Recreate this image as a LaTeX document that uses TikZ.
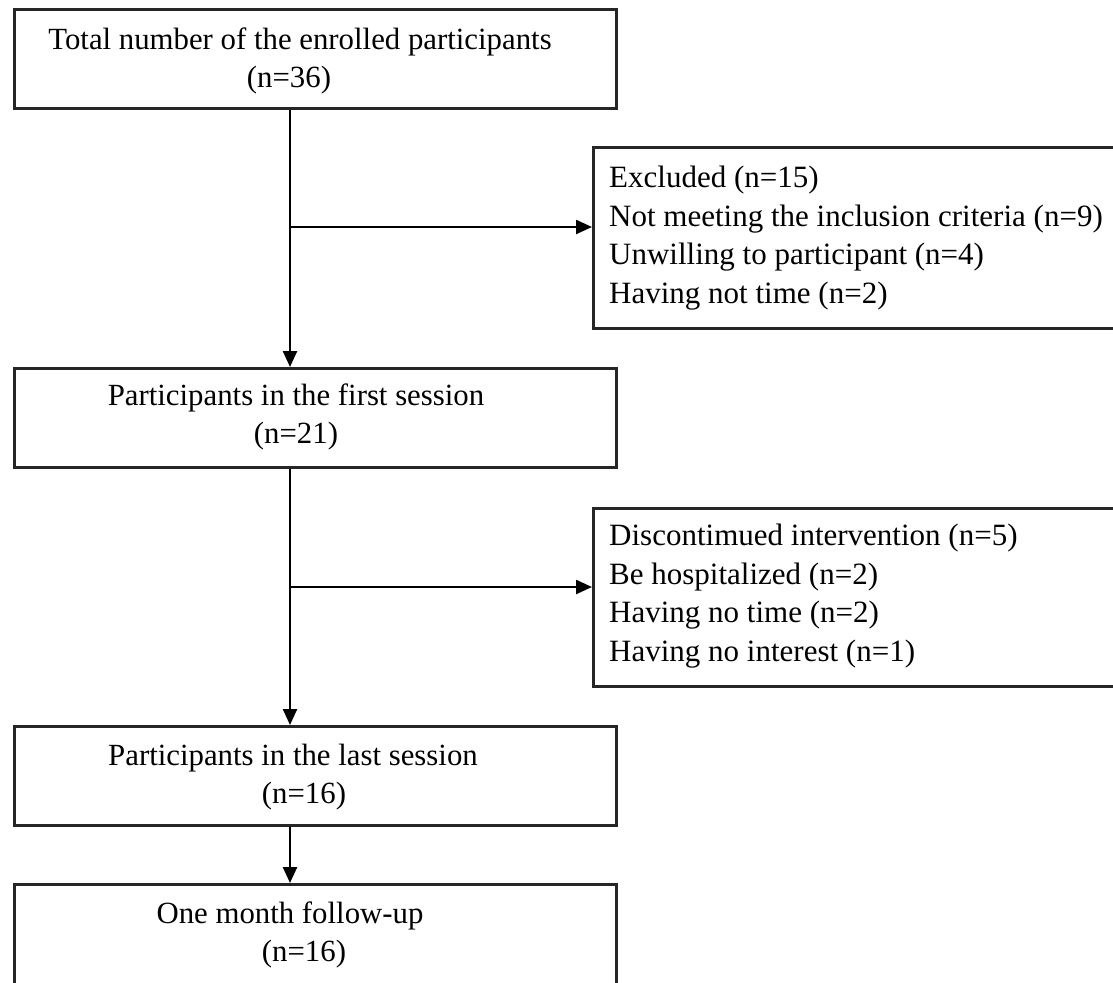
\documentclass[tikz,border=0pt]{standalone}
\usepackage{fontspec}
\setmainfont{Liberation Serif}
\usetikzlibrary{arrows.meta}
\begin{document}
\begin{tikzpicture}[x=1pt,y=-1pt,
  mainbox/.style={draw=black!85,line width=2.6pt,minimum width=602pt,minimum height=99pt,inner sep=0pt,anchor=north west},
  sidebox/.style={draw=black!85,line width=2.6pt,minimum width=560pt,minimum height=180pt,inner sep=0pt,anchor=north west},
  lbl/.style={align=center,inner sep=0pt,font=\fontsize{30.8}{38}\selectfont},
  sidelbl/.style={align=left,inner sep=0pt,anchor=west,font=\fontsize{31}{38.5}\selectfont},
  arr/.style={draw=black,line width=2.4pt,-{Triangle[length=16pt,width=14pt]}}]
\useasboundingbox (0,0) rectangle (1113,982);
\clip (0,0) rectangle (1113,982);
\fill[white] (0,0) rectangle (1113,982);
\coordinate (spine) at (290,0);
% main boxes
\node[mainbox] (b1) at (13,8) {};
\node[mainbox] (b2) at (13,367) {};
\node[mainbox] (b3) at (13,725) {};
\node[mainbox,minimum height=140pt] (b4) at (13,883) {};
% side boxes
\node[sidebox,minimum height=181pt] (ex) at (592,146) {};
\node[sidebox,minimum height=178pt] (dc) at (592,507) {};
% labels
\node[lbl] (t1) at (300,61) {Total number of the enrolled participants\\(n=36)\hspace*{22pt}};
\node[lbl] (t2) at (296,417) {Participants in the first session\\(n=21)};
\node[lbl] (t3) at (293,777) {Participants in the last session\\\hspace*{22pt}(n=16)};
\node[lbl] (t4) at (290,935) {One month follow-up\\\hspace*{28pt}(n=16)};
\node[sidelbl] (s1) at (609,238) {Excluded (n=15)\\Not meeting the inclusion criteria (n=9)\\Unwilling to participant (n=4)\\Having not time (n=2)};
\node[sidelbl] (s2) at (609,596) {Discontimued intervention (n=5)\\Be hospitalized (n=2)\\Having no time (n=2)\\Having no interest (n=1)};
% connectors
\coordinate (j1) at (290,227);
\coordinate (j2) at (290,587);
\draw[arr] (b1.south -| spine) -- (b2.north -| spine);
\draw[arr] (b2.south -| spine) -- (b3.north -| spine);
\draw[arr] (b3.south -| spine) -- (b4.north -| spine);
\draw[arr] (j1) -- (j1 -| ex.west);
\draw[arr] (j2) -- (j2 -| dc.west);
\end{tikzpicture}
\end{document}
